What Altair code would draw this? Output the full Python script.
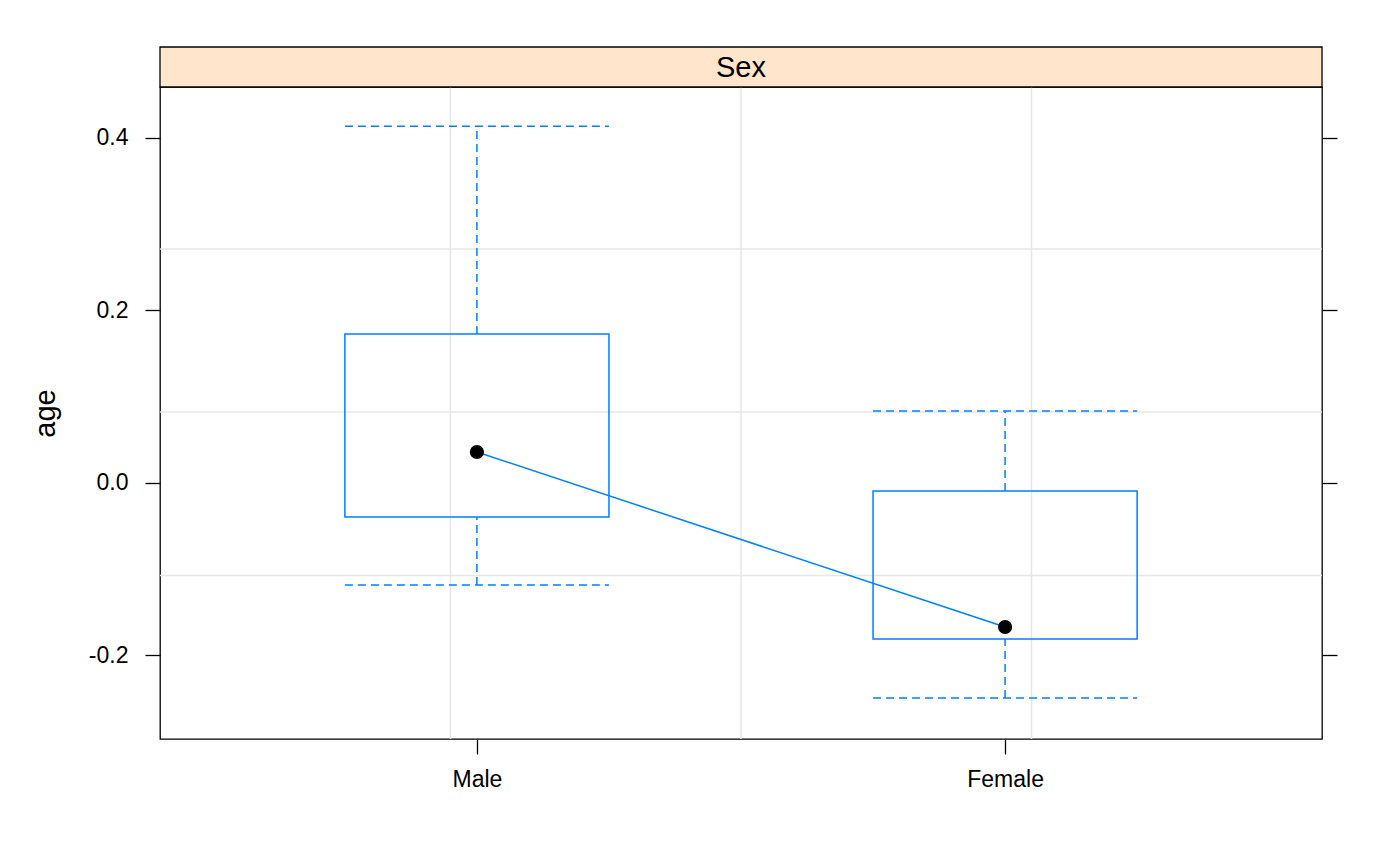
import altair as alt
import pandas as pd

# ---- data ----
sexes = ["Male", "Female"]
sex_pos = [1, 2]
point_est = [0.0355, -0.1675]
box_low = [-0.0399, -0.1815]
box_high = [0.1723, -0.0098]
whisker_low = [-0.1188, -0.2499]
whisker_high = [0.4132, 0.0830]

y_ticks = [-0.2, 0.0, 0.2, 0.4]
hgrid_vals = [0.271, 0.082, -0.1077]
vgrid_vals = [0.95, 1.5, 2.05]
strip_label = "Sex"
y_title = "age"

df = pd.DataFrame({
    "sex": sexes, "pos": sex_pos, "est": point_est,
    "q1": box_low, "q3": box_high, "lo": whisker_low, "hi": whisker_high,
})
hgrid = pd.DataFrame({"v": hgrid_vals})
vgrid = pd.DataFrame({"v": vgrid_vals})

W, H = 1162, 652
BLUE = "#0080ff"
FONT = "Liberation Sans"
HALF = 0.25

xscale = alt.Scale(domain=[0.4, 2.6], nice=False, zero=False)
yscale = alt.Scale(domain=[-0.2974, 0.4588], nice=False, zero=False)

label_expr_x = " : ".join(
    [f"datum.value == {p} ? '{s}'" for p, s in zip(sex_pos[:-1], sexes[:-1])]
) + f" : '{sexes[-1]}'"

x_axis = alt.Axis(values=sex_pos, labelExpr=label_expr_x, title=None, grid=False,
                  domain=False, tickSize=15, tickColor="black", tickWidth=1.3,
                  labelFont=FONT, labelFontSize=23, labelColor="black",
                  labelPadding=14)
y_axis = alt.Axis(values=y_ticks,
                  labelExpr="datum.value < 0 ? '-' + format(-datum.value, '.1f') : format(datum.value, '.1f')",
                  title=y_title, grid=False, domain=False, tickSize=15,
                  tickColor="black", tickWidth=1.3, labelFont=FONT,
                  labelFontSize=23, labelColor="black", labelPadding=17,
                  titleFont=FONT, titleFontSize=29, titleFontWeight="normal",
                  titleColor="black", titleX=-115, titleY=H / 2,
                  titleAngle=-90, titleAlign="center", titleBaseline="middle")
y_axis_right = alt.Axis(values=y_ticks, labels=False, title=None, grid=False,
                        domain=False, tickSize=15, tickColor="black",
                        tickWidth=1.3, orient="right")

base = alt.Chart(df)


def X(field):
    return alt.X(field, scale=xscale, axis=x_axis)


def Y(field):
    return alt.Y(field, scale=yscale, axis=None)


hg = alt.Chart(hgrid).mark_rule(color="#e6e6e6", strokeWidth=1.5).encode(
    y=alt.Y("v:Q", scale=yscale, axis=y_axis),
    x=alt.value(0), x2=alt.value(W))
vg = alt.Chart(vgrid).mark_rule(color="#e6e6e6", strokeWidth=1.5).encode(
    x=X("v:Q"), y=alt.value(0), y2=alt.value(H))

boxes = base.transform_calculate(
    xl=f"datum.pos - {HALF}", xr=f"datum.pos + {HALF}"
).mark_rect(fill=None, stroke=BLUE, strokeWidth=1.5, fillOpacity=0).encode(
    x=X("xl:Q"), x2="xr:Q", y=Y("q1:Q"), y2="q3:Q")

dash = [8, 5]
wh_up = base.mark_rule(color=BLUE, strokeWidth=1.5, strokeDash=dash).encode(
    x=X("pos:Q"), y=Y("q3:Q"), y2="hi:Q")
wh_dn = base.mark_rule(color=BLUE, strokeWidth=1.5, strokeDash=dash).encode(
    x=X("pos:Q"), y=Y("lo:Q"), y2="q1:Q")
caps = base.transform_fold(["lo", "hi"], as_=["k", "yv"]).transform_calculate(
    xl=f"datum.pos - {HALF}", xr=f"datum.pos + {HALF}"
).mark_rule(color=BLUE, strokeWidth=1.5, strokeDash=dash).encode(
    x=X("xl:Q"), x2="xr:Q", y=Y("yv:Q"))

line = base.mark_line(color=BLUE, strokeWidth=1.5).encode(
    x=X("pos:Q"), y=Y("est:Q"), order="pos:Q")
pts = base.mark_circle(color="black", opacity=1, size=200).encode(
    x=X("pos:Q"), y=Y("est:Q"))

strip_df = pd.DataFrame({"lab": [strip_label]})
strip = alt.Chart(strip_df).mark_rect(fill="#ffe5cc", stroke="black",
                                     strokeWidth=1.3).encode(
    x=alt.value(0), x2=alt.value(W), y=alt.value(-40), y2=alt.value(0))
strip_txt = alt.Chart(strip_df).mark_text(font=FONT, fontSize=29, color="black",
                                         baseline="middle", align="center").encode(
    text="lab:N", x=alt.value(W / 2), y=alt.value(-19))

right_ax = alt.Chart(hgrid).mark_rule(opacity=0).encode(
    y=alt.Y("v:Q", scale=yscale, axis=y_axis_right))

chart = alt.layer(
    hg, vg, boxes, wh_up, wh_dn, caps, line, pts, strip, strip_txt, right_ax
).resolve_axis(y="independent").properties(
    width=W, height=H,
    autosize=alt.AutoSizeParams(type="none"),
    padding={"left": 152, "top": 79, "right": 70, "bottom": 100},
).configure(background="white").configure_view(stroke="black", strokeWidth=1.3)

chart.save("out.html", embed_options={"renderer": "svg", "actions": False})
